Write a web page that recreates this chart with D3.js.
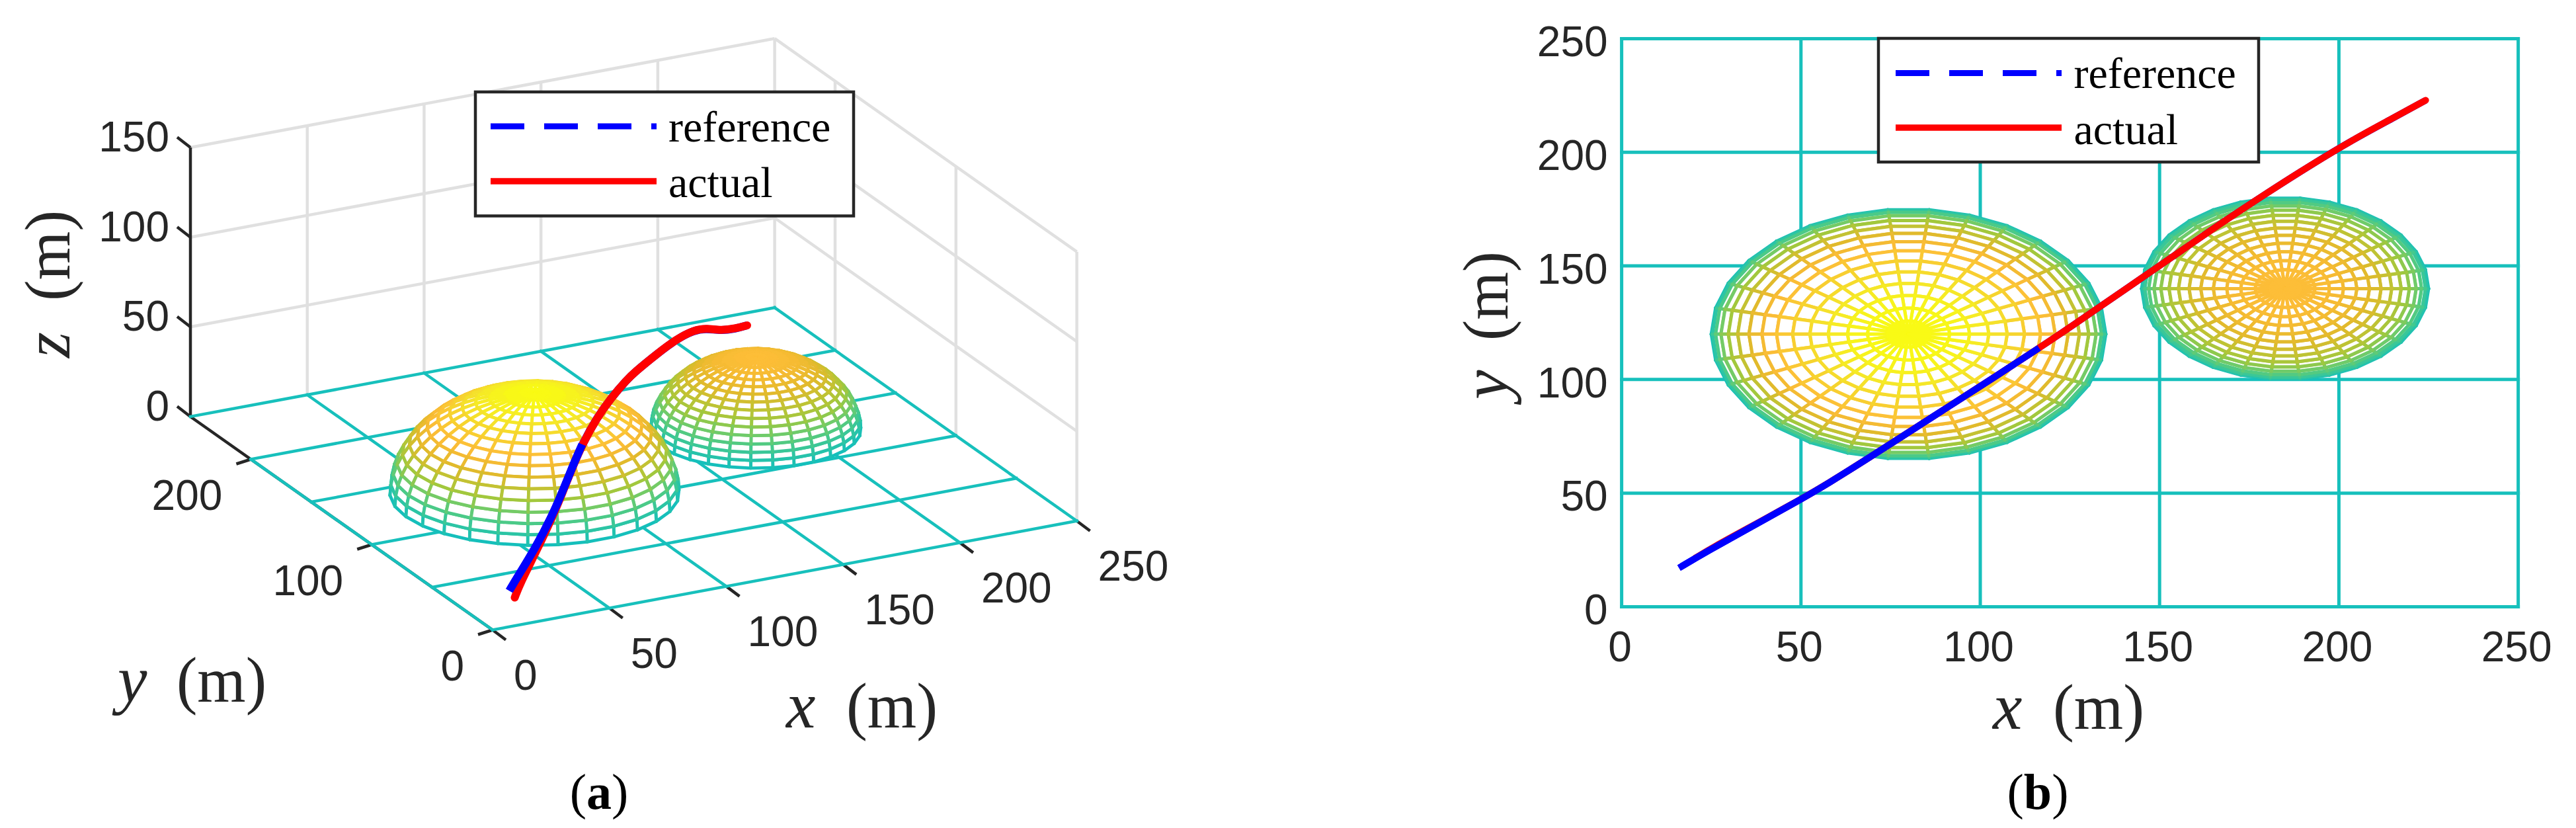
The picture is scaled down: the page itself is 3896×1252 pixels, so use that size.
<!DOCTYPE html>
<html><head><meta charset="utf-8">
<style>html,body{margin:0;padding:0;background:#fff;overflow:hidden}svg{display:block}</style>
<script src="https://cdn.jsdelivr.net/npm/d3@7"></script>
</head><body><svg id="c" width="3896" height="1252"></svg>
<script>
// ---------- data ----------
const xTicks=[0,50,100,150,200,250];
const yTicks=[0,50,100,150,200,250];
const yTicks3D=[0,100,200];
const zTicks=[0,50,100,150];
const refX=[16,23.7,36.6,49.8,57.7,68,75.9,89,102,116.4,123,146,165,181,192,204,215,224.2];
const refY=[17.1,24.3,35.6,47.1,54.4,64.6,72.6,85.9,99,113.9,120.8,145.7,166.6,183.2,194.2,205.6,214.9,222.9];
const refZ=[9.8,13.2,19.5,29,36,45,50.5,55.7,57.6,57,56,49.4,42.8,36,29,19.4,13.4,9.3];
const actX=[20.6,25,36.8,50,57.9,68.2,76.1,89.2,102.2,116.6,123.2,146.2,165.2,181.2,192.2,204.2,215.2,224.2];
const actY=[21.5,25.8,35.9,47.3,54.6,64.8,72.8,86.1,99.2,114.1,121,145.9,166.8,183.4,194.4,205.8,215.1,222.9];
const actZ=[2.8,7.2,16.5,28,35.6,44.8,50.4,55.7,57.6,57,56,49.4,42.8,36,29,19.4,13.4,9.3];
const domeX=[80,185], domeY=[120,140], domeR=[55,40];
const colorZ=[0,5.7,11.4,17,22,27.5,32,37,40,46,50,55];
const colorHex=["#15bfbb","#2cc5a5","#4bca88","#74cb66","#a0c83e","#c3c233","#e0ba2c","#f5bb33","#fdbe38","#f6d42e","#f5e62a","#f9fb14"];
const seriesNames=["reference","actual"];
// ---------- shared ----------
const TEAL="#17c0bc",INK="#262626",SANS="'Liberation Sans',Arial,sans-serif",SERIF="'Liberation Serif','Times New Roman',serif";
const svg=d3.select("#c");
const cScale=d3.scaleLinear().domain(colorZ).range(colorHex);
const zip=(a,b,c)=>a.map((v,i)=>[v,b[i],c[i]]);
const ref=zip(refX,refY,refZ), act=zip(actX,actY,actZ);
function quads(k){
  const out=[],dLat=6,dLon=12;
  const P=(lat,lon)=>{const a=lat*Math.PI/180,b=lon*Math.PI/180;
    return [domeX[k]+domeR[k]*Math.cos(a)*Math.cos(b),domeY[k]+domeR[k]*Math.cos(a)*Math.sin(b),domeR[k]*Math.sin(a)];};
  for(let la=0;la<90;la+=dLat)for(let lo=0;lo<360;lo+=dLon)
    out.push([P(la,lo),P(la,lo+dLon),P(la+dLat,lo+dLon),P(la+dLat,lo)]);
  return out;
}
function drawQuads(g,list,proj,sw){
  list.forEach(q=>{
    const p=q.map(proj);
    g.append("polygon").attr("points",p.map(d=>d.join(",")).join(" ")).attr("fill","#fff").attr("stroke","none");
    for(let i=0;i<4;i++){const j=(i+1)%4;
      g.append("line").attr("x1",p[i][0]).attr("y1",p[i][1]).attr("x2",p[j][0]).attr("y2",p[j][1])
       .attr("stroke",cScale((q[i][2]+q[j][2])/2)).attr("stroke-width",sw).attr("stroke-linecap","round");}
  });
}
function legend(g,x0,y0,x1,y1,lx0,lx1,ly1,ly2,tx,tb1,tb2){
  g.append("rect").attr("x",x0).attr("y",y0).attr("width",x1-x0).attr("height",y1-y0).attr("fill","#fff").attr("stroke",INK).attr("stroke-width",4.5);
  g.append("line").attr("x1",lx0).attr("x2",lx1).attr("y1",ly1).attr("y2",ly1).attr("stroke","#0000ff").attr("stroke-width",9).attr("stroke-dasharray","51 30");
  g.append("line").attr("x1",lx0).attr("x2",lx1).attr("y1",ly2).attr("y2",ly2).attr("stroke","#ff0000").attr("stroke-width",9.5);
  [[seriesNames[0],tb1],[seriesNames[1],tb2]].forEach(([s,b])=>
    g.append("text").text(s).attr("x",tx).attr("y",b).attr("font-family",SERIF).attr("font-size",66).attr("fill","#000"));
}
function mathLabel(g,letter,unitLen,x,y,gap,rot){
  const h=g.append("g").attr("transform",`translate(${x},${y}) rotate(${rot})`);
  h.append("text").text(letter).attr("font-family",SERIF).attr("font-style","italic").attr("font-size",100).attr("fill",INK);
  h.append("text").text("(m)").attr("x",gap).attr("font-family",SERIF).attr("font-size",98).attr("fill",INK)
   .attr("textLength",unitLen).attr("lengthAdjust","spacingAndGlyphs");
}
function caption(b,cx){
  const t=svg.append("text").attr("x",cx).attr("y",1223).attr("text-anchor","middle").attr("font-family",SERIF).attr("font-size",76).attr("fill","#000");
  t.append("tspan").text("(");t.append("tspan").text(b).attr("font-weight","bold");t.append("tspan").text(")");
}
// ---------- panel (a): orthographic projection built from scales ----------
const a={};
a.xX=d3.scaleLinear([0,250],[0,883.6]);a.xY=d3.scaleLinear([0,250],[0,-164.8]);
a.yX=d3.scaleLinear([0,250],[0,-457]);a.yY=d3.scaleLinear([0,250],[0,-322.5]);
a.zY=d3.scaleLinear([0,150],[0,-407]);
const pA=([x,y,z])=>[745+a.xX(x)+a.yX(y),952.5+a.xY(x)+a.yY(y)+a.zY(z)];
const gA=svg.append("g");
const seg=(g,p,q,col,w,cap)=>g.append("line").attr("x1",p[0]).attr("y1",p[1]).attr("x2",q[0]).attr("y2",q[1]).attr("stroke",col).attr("stroke-width",w).attr("stroke-linecap",cap||"butt");
// walls
const GRAY="#e0e0e0";
zTicks.slice(1).forEach(z=>{
  seg(gA,pA([0,250,z]),pA([250,250,z]),GRAY,4.5);
  seg(gA,pA([250,250,z]),pA([250,0,z]),GRAY,4.5);
});
xTicks.slice(1).forEach(x=>seg(gA,pA([x,250,0]),pA([x,250,150]),GRAY,4.5));
yTicks3D.forEach(y=>seg(gA,pA([250,y,0]),pA([250,y,150]),GRAY,4.5));
// black axes and ticks
seg(gA,pA([0,0,0]),pA([0,250,0]),INK,4.5);
seg(gA,pA([0,250,0]),pA([0,250,150]),INK,4.5);
zTicks.forEach(z=>{const p=pA([0,250,z]);seg(gA,p,[p[0]-20,p[1]-15.5],INK,4.5);
  gA.append("text").text(z).attr("x",256).attr("y",p[1]-17+23).attr("text-anchor","end").attr("font-family",SANS).attr("font-size",64).attr("fill",INK);});
yTicks3D.forEach(y=>{const p=pA([0,y,0]);seg(gA,p,[p[0]-22,p[1]+7],INK,4.5);
  gA.append("text").text(y).attr("x",p[0]-43).attr("y",p[1]+53+23).attr("text-anchor","end").attr("font-family",SANS).attr("font-size",64).attr("fill",INK);});
xTicks.forEach(x=>{const p=pA([x,0,0]);seg(gA,p,[p[0]+20,p[1]+15],INK,4.5);
  gA.append("text").text(x).attr("x",p[0]+32).attr("y",p[1]+67.5+23).attr("font-family",SANS).attr("font-size",64).attr("fill",INK);});
// floor
yTicks.forEach(y=>seg(gA,pA([0,y,0]),pA([250,y,0]),TEAL,4.5,"square"));
xTicks.forEach(x=>seg(gA,pA([x,0,0]),pA([x,x===0?200:250,0]),TEAL,4.5,"square"));
// domes, painter's order along the viewing direction
const depth=q=>d3.mean(q,p=>-0.517*p[0]-p[1]+0.6*p[2]);
const allQ=[...quads(0),...quads(1)];
drawQuads(gA.append("g"),allQ.slice().sort((m,n)=>depth(m)-depth(n)),pA,4.8);
// paths
const lineA=d3.line().x(d=>pA(d)[0]).y(d=>pA(d)[1]).curve(d3.curveBasis);
const drawPath=(g,line,d,col,w,cap)=>g.append("path").attr("d",line(d)).attr("fill","none").attr("stroke",col).attr("stroke-width",w).attr("stroke-linecap",cap).attr("stroke-linejoin","round");
drawPath(gA,lineA,ref,"#0000ff",12,"butt");
drawPath(gA,lineA,act,"#ff0000",12,"round");
drawPath(gA,lineA,ref.slice(0,7),"#0000ff",12,"butt");
legend(gA,719,139,1291,326.5,742,993,191,274,1011,213.5,298);
mathLabel(gA,"z",137,105,541,86,-90);
mathLabel(gA,"y",136,178,1061,89,0);
mathLabel(gA,"x",138,1189,1100,91,0);
caption("a",906);
// ---------- panel (b) ----------
const X=d3.scaleLinear([0,250],[2452.6,3808.6]);
const Y=d3.scaleLinear([0,250],[917.5,58.4]);
const gB=svg.append("g");
yTicks.forEach(y=>seg(gB,[X(0),Y(y)],[X(250),Y(y)],TEAL,5,"square"));
xTicks.forEach(x=>seg(gB,[X(x),Y(0)],[X(x),Y(250)],TEAL,5,"square"));
const axB=gB.append("g").attr("transform",`translate(0,${Y(0)})`).call(d3.axisBottom(X).tickValues(xTicks).tickSize(0).tickPadding(37));
const axL=gB.append("g").attr("transform",`translate(${X(0)},0)`).call(d3.axisLeft(Y).tickValues(yTicks).tickSize(0).tickPadding(21));
[axB,axL].forEach(s=>{s.select(".domain").remove();s.selectAll("text").attr("font-family",SANS).attr("font-size",64).attr("fill",INK);});
axB.selectAll("text").attr("dx",-3);
axL.selectAll("text").attr("dy","0.41em");
const pB=([x,y])=>[X(x),Y(y)];
[0,1].forEach(k=>drawQuads(gB.append("g"),quads(k).sort((m,n)=>d3.mean(m,p=>p[2])-d3.mean(n,p=>p[2])),pB,5));
const lineB=d3.line().x(d=>X(d[0])).y(d=>Y(d[1])).curve(d3.curveBasis);
drawPath(gB,lineB,ref,"#0000ff",10,"butt");
drawPath(gB,lineB,act,"#ff0000",10,"round");
drawPath(gB,lineB,ref.slice(0,10),"#0000ff",10,"butt");
legend(gB,2841,58,3416,245,2867,3118,110.6,193,3136.5,133,217.5);
mathLabel(gB,"y",135,2280,604,89,-90);
mathLabel(gB,"x",138,3014,1102,91,0);
caption("b",3082);
</script></body></html>
